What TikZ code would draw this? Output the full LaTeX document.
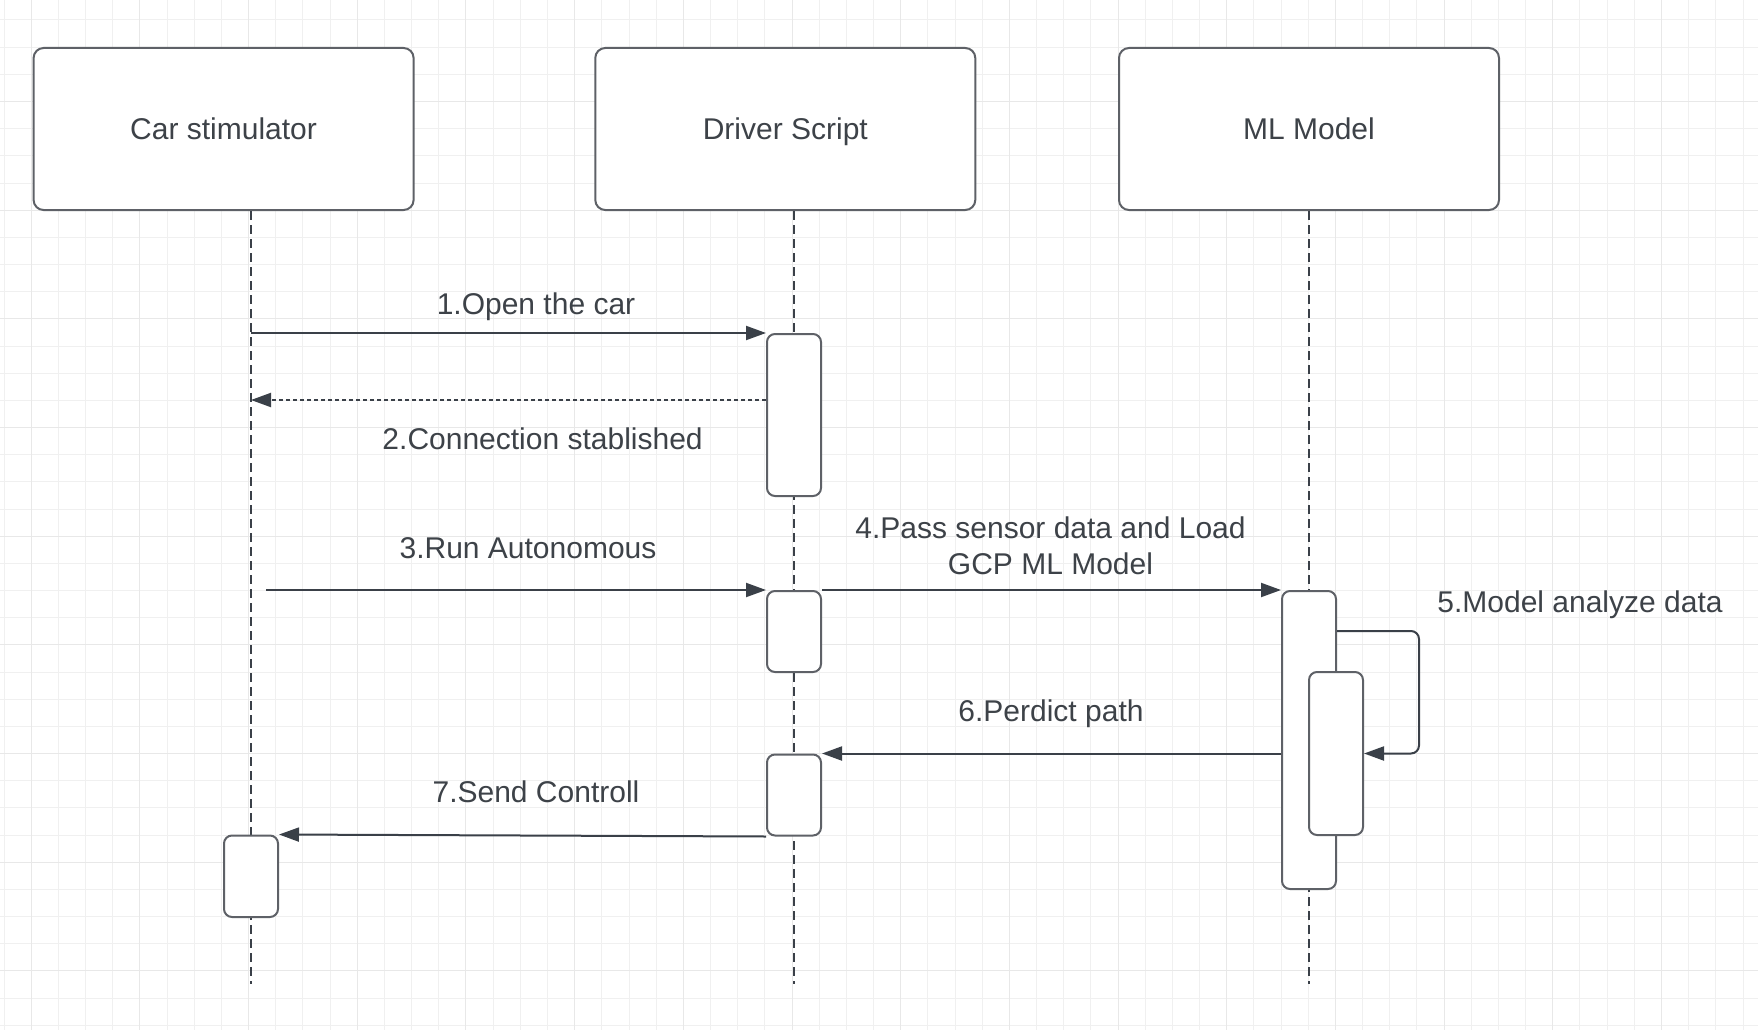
\documentclass[tikz,border=0pt]{standalone}
\usepackage{fontspec}
\setmainfont{Liberation Sans}
\usetikzlibrary{arrows.meta}

\definecolor{gridminor}{HTML}{F0F0F0}
\definecolor{gridmajor}{HTML}{E8E8E8}
\definecolor{boxline}{HTML}{5E6167}
\definecolor{arrowline}{HTML}{3A4048}
\definecolor{labeltext}{HTML}{3D4248}

\begin{document}
\begin{tikzpicture}[x=1pt,y=-1pt,
  every node/.style={font=\fontsize{30}{36.3}\selectfont, text=labeltext},
  head/.style={draw=boxline, line width=2pt, fill=white, rounded corners=10pt,
    minimum width=380pt, minimum height=162pt, text height=21.5pt, text depth=0pt},
  act/.style={draw=boxline, line width=2pt, fill=white, rounded corners=8pt,
    minimum width=54pt, inner sep=0pt},
  life/.style={draw=arrowline, line width=2.7pt, dash pattern=on 8.5pt off 5.5pt},
  msg/.style={draw=arrowline, line width=2pt, -{Triangle[length=20pt,width=14pt]}},
  reply/.style={msg, dash pattern=on 4pt off 3pt},
  lbl/.style={inner sep=0pt, text height=21.5pt, text depth=0pt}]

  \useasboundingbox (0,0) rectangle (1758,1030);
  \fill[white] (0,0) rectangle (1758,1030);
  \foreach \i in {0,...,64} \draw[gridminor, line width=1pt] ({4.1+27.17*\i},0) -- ++(0,1030);
  \foreach \j in {0,...,37} \draw[gridminor, line width=1pt] (0,{20+27.17*\j}) -- ++(1758,0);
  \foreach \i in {0,...,15} \draw[gridmajor, line width=1pt] ({31.27+108.68*\i},0) -- ++(0,1030);
  \foreach \j in {0,...,8} \draw[gridmajor, line width=1pt] (0,{101.5+108.68*\j}) -- ++(1758,0);

  % lifeline heads
  \node[head] (car) at (223.6,129) {Car stimulator};
  \node[head] (drv) at (785.3,129) {Driver Script};
  \node[head] (ml)  at (1309,129)  {ML Model};

  \coordinate (car-end) at (251,984);
  \coordinate (drv-end) at (794,984);
  \coordinate (ml-end)  at (1309,984);
  \draw[life] (car.south -| car-end) -- (car-end);
  \draw[life] (drv.south -| drv-end) -- (drv-end);
  \draw[life] (ml.south -| ml-end) -- (ml-end);

  % activations
  \node[act, minimum height=162pt]   (d1) at (794,415)     {};
  \node[act, minimum height=81pt]    (d2) at (794,631.5)   {};
  \node[act, minimum height=81pt]    (d3) at (794,795)     {};
  \node[act, minimum height=81.5pt]  (a1) at (251,876.25)  {};
  \node[act, minimum height=298pt]   (m1) at (1309,740)    {};
  \node[act, minimum height=163pt]   (m2) at (1336,753.5)  {};

  % messages
  \coordinate (r2) at ([yshift=-67pt]d1.north west);
  \path (car-end |- d1.north) edge[msg] (d1.north west)
        (r2) edge[reply] (car-end |- r2)
        ([xshift=15pt]car-end |- d2.north) edge[msg] (d2.north west)
        (d2.north east) edge[msg] (m1.north west)
        (m1.west |- d3.north) edge[msg] (d3.north east)
        (d3.south west) edge[msg] (a1.north east);
  \draw[msg, rounded corners=8pt] ([yshift=-41pt]m1.north east)
    -| ([xshift=55pt]m2.east |- d3.north) -- (m2.east |- d3.north);

  % labels
  \node[lbl] (l1) at (536,304)      {1.Open the car};
  \node[lbl] (l2) at (542.6,438.4)  {2.Connection stablished};
  \node[lbl] (l3) at (528,548)      {3.Run Autonomous};
  \node[align=center, inner sep=0pt] (l4) at (1050.5,545.6)
    {4.Pass sensor data and Load\\GCP ML Model};
  \node[lbl] (l5) at (1580,601.7)   {5.Model analyze data};
  \node[lbl] (l6) at (1051,710.7)   {6.Perdict path};
  \node[lbl] (l7) at (536,791.5)    {7.Send Controll};
\end{tikzpicture}
\end{document}
